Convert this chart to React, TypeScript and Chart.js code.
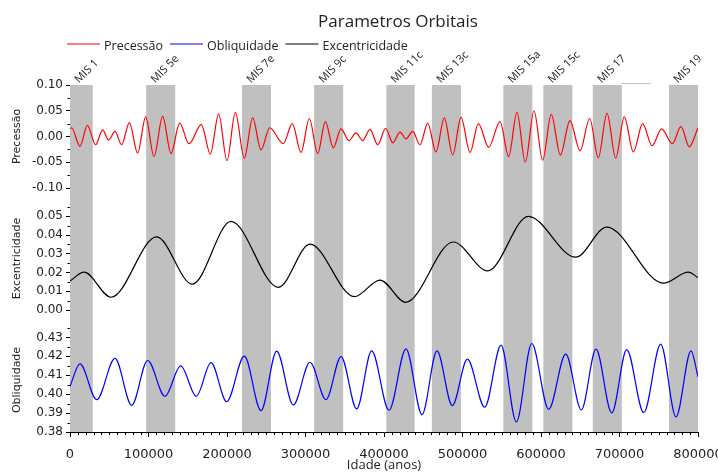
import React, { useEffect, useRef } from 'react';
import { Chart, registerables } from 'chart.js';

Chart.register(...registerables);

// ---------------- data ----------------
const chartTitle = 'Parametros Orbitais';
const xAxisTitle = 'Idade (anos)';

const seriesNames = ['Precessão', 'Obliquidade', 'Excentricidade'];
const seriesColors = ['#ff0000', '#0000ff', '#000000'];

const precessionAges = [0, 2000, 12700, 22100, 32700, 41600, 49200, 57300, 65800, 75600, 86200, 96400, 107000, 118000, 128700, 139700, 151600, 167300, 178800, 189400, 200000, 210600, 222000, 232700, 243300, 254400, 271700, 283200, 294300, 304900, 315500, 325300, 335400, 345200, 355400, 364300, 372800, 382200, 392000, 402100, 411100, 420400, 428000, 436500, 445900, 455700, 466200, 476800, 487500, 498100, 509600, 520200, 533400, 547800, 558800, 569400, 580000, 591100, 602100, 613100, 624600, 636900, 649700, 662000, 673000, 684100, 695200, 706100, 717600, 729500, 741400, 753700, 767300, 778300, 788900, 800000];
const precessionValues = [0.015, 0.017, -0.019, 0.0216, -0.016, 0.013, -0.007, 0.0098, -0.016, 0.027, -0.032, 0.038, -0.039, 0.039, -0.033, 0.026, -0.014, 0.023, -0.034, 0.044, -0.047, 0.047, -0.042, 0.036, -0.026, 0.017, -0.014, 0.025, -0.031, 0.035, -0.033, 0.029, -0.022, 0.015, -0.008, 0.007, -0.008, 0.014, -0.016, 0.016, -0.012, 0.0085, -0.0046, 0.0098, -0.016, 0.026, -0.030, 0.036, -0.036, 0.037, -0.031, 0.025, -0.021, 0.029, -0.039, 0.047, -0.050, 0.050, -0.046, 0.043, -0.036, 0.031, -0.028, 0.035, -0.041, 0.045, -0.042, 0.038, -0.030, 0.025, -0.018, 0.015, -0.014, 0.019, -0.020, 0.017];

const eccentricityAges = [0, 18000, 52200, 110400, 155800, 205100, 265400, 305700, 362200, 394900, 427600, 488300, 532100, 583900, 644200, 683700, 755900, 787700, 800000];
const eccentricityValues = [0.0155, 0.0202, 0.0068, 0.039, 0.0138, 0.0473, 0.0121, 0.0352, 0.0071, 0.016, 0.0041, 0.0363, 0.0209, 0.050, 0.0282, 0.0443, 0.0143, 0.0202, 0.0173];

const obliquityAges = [0, 12700, 34000, 57300, 78600, 98900, 121000, 141000, 160900, 179600, 199600, 222100, 243300, 263300, 284500, 305700, 326100, 345300, 365200, 384300, 406400, 428000, 448400, 467500, 487000, 506200, 528300, 549100, 568600, 588200, 609800, 631500, 651400, 670100, 690100, 709200, 730900, 752500, 772000, 791100, 800000];
const obliquityValues = [0.4042, 0.416, 0.3971, 0.4189, 0.3941, 0.4178, 0.3989, 0.415, 0.3989, 0.4167, 0.3961, 0.4201, 0.3913, 0.4228, 0.3943, 0.4169, 0.3971, 0.4199, 0.3922, 0.4229, 0.3915, 0.424, 0.3892, 0.4229, 0.394, 0.4185, 0.3931, 0.4259, 0.3853, 0.4268, 0.392, 0.4212, 0.3917, 0.4238, 0.3901, 0.4236, 0.3902, 0.4265, 0.388, 0.4229, 0.4092];

const misLabels = ['MIS 1', 'MIS 5e', 'MIS 7e', 'MIS 9c', 'MIS 11c', 'MIS 13c', 'MIS 15a', 'MIS 15c', 'MIS 17', 'MIS 19'];
const misStarts = [0, 97000, 219000, 311000, 403000, 461000, 552000, 603000, 666000, 763000];
const misEnds = [29000, 134000, 256000, 348000, 439000, 498000, 589000, 640000, 703000, 800000];
const stubBand = [702000, 740000];

const xMin = 0;
const xMax = 800000;
const xStep = 100000;
const xMinorStep = 10000;

const precessionRange = [-0.1, 0.1, 0.05];
const eccentricityRange = [0, 0.055, 0.01];
const obliquityRange = [0.38, 0.435, 0.01];

// ---------------- styling ----------------
const BAND = '#c0c0c0';
const TXT = '#222222';
const tickFontY = { family: '"DejaVu Sans", sans-serif', size: 12 };
const tickFontX = { family: '"DejaVu Sans", sans-serif', size: 13 };
const yTitleFont = { family: '"DejaVu Sans", sans-serif', size: 11 };

const fmt2 = (v: any) => (Math.abs(Number(v)) < 1e-9 ? 0 : Number(v)).toFixed(2);

function panelAxis(range: number[], title: string, stackWeight: number, weight: number) {
  return {
    type: 'linear',
    position: 'left',
    stack: 'panels',
    stackWeight,
    weight,
    min: range[0],
    max: range[1],
    ticks: {
      stepSize: range[2],
      includeBounds: false,
      autoSkip: false,
      font: tickFontY,
      color: TXT,
      padding: 3,
      callback: fmt2,
    },
    grid: { drawOnChartArea: false, drawTicks: true, tickLength: 4, tickColor: '#000' },
    border: { display: true, color: '#000', width: 1 },
    title: { display: true, text: title, font: yTitleFont, color: TXT, padding: { top: 2.4, bottom: 4 } },
    afterFit: (s: any) => { s.width = 62; },
  };
}

function gapAxis(stackWeight: number, weight: number) {
  return {
    type: 'linear',
    position: 'left',
    stack: 'panels',
    stackWeight,
    weight,
    min: 0,
    max: 1,
    ticks: { display: false },
    grid: { display: false, drawTicks: false },
    border: { display: false },
    title: { display: false },
    afterFit: (s: any) => { s.width = 62; },
  };
}

const decorPlugin = {
  id: 'decor',
  beforeDatasetsDraw(chart: any) {
    const { ctx, chartArea, scales } = chart;
    const x = scales.x;
    ctx.save();
    ctx.fillStyle = BAND;
    misStarts.forEach((s, i) => {
      const x0 = x.getPixelForValue(s);
      const x1 = x.getPixelForValue(misEnds[i]);
      ctx.fillRect(x0, chartArea.top, x1 - x0, chartArea.bottom - chartArea.top);
    });
    ctx.restore();
  },
  afterDraw(chart: any) {
    const { ctx, chartArea, scales } = chart;
    const x = scales.x;
    ctx.save();
    // minor ticks
    ctx.strokeStyle = '#000';
    ctx.lineWidth = 1;
    ctx.beginPath();
    for (let v = xMin + xMinorStep; v < xMax; v += xMinorStep) {
      if (v % xStep === 0) continue;
      const px = Math.round(x.getPixelForValue(v)) + 0.5;
      ctx.moveTo(px, chartArea.bottom);
      ctx.lineTo(px, chartArea.bottom + 3);
    }
    const yDefs: [string, number[]][] = [['yP', precessionRange], ['yE', eccentricityRange], ['yO', obliquityRange]];
    yDefs.forEach(([id, r]) => {
      const sc = scales[id];
      for (let v = r[0] + r[2] / 2; v <= r[1] + 1e-9; v += r[2]) {
        const py = Math.round(sc.getPixelForValue(v)) + 0.5;
        ctx.moveTo(chartArea.left - 2.5, py);
        ctx.lineTo(chartArea.left, py);
      }
    });
    ctx.stroke();

    // stub line at the top
    ctx.strokeStyle = BAND;
    ctx.beginPath();
    ctx.moveTo(x.getPixelForValue(stubBand[0]), chartArea.top - 1.5);
    ctx.lineTo(x.getPixelForValue(stubBand[1]), chartArea.top - 1.5);
    ctx.stroke();

    // title
    ctx.fillStyle = TXT;
    ctx.font = '17px "Open Sans", sans-serif';
    ctx.textAlign = 'center';
    ctx.textBaseline = 'alphabetic';
    ctx.fillText(chartTitle, 398, 27);

    // legend
    ctx.font = '12.5px "Open Sans", sans-serif';
    ctx.textAlign = 'left';
    let lx = 67;
    seriesNames.forEach((name, i) => {
      ctx.strokeStyle = seriesColors[i];
      ctx.lineWidth = 1.2;
      ctx.beginPath();
      ctx.moveTo(lx, 44);
      ctx.lineTo(lx + 33, 44);
      ctx.stroke();
      ctx.fillStyle = TXT;
      ctx.fillText(name, lx + 37, 49.5);
      lx += 37 + ctx.measureText(name).width + 7;
    });

    // MIS labels
    ctx.font = '11px "Open Sans", sans-serif';
    ctx.fillStyle = TXT;
    misStarts.forEach((s, i) => {
      ctx.save();
      ctx.translate(x.getPixelForValue(s) + 9, chartArea.top - 1.5);
      ctx.rotate(-Math.PI / 4);
      ctx.fillText(misLabels[i], 0, 0);
      ctx.restore();
    });
    ctx.restore();
  },
};

export default function App() {
  const ref = useRef<HTMLCanvasElement | null>(null);

  useEffect(() => {
    document.body.style.margin = '0';
    const canvas = ref.current;
    if (!canvas) return;
    const toXY = (ages: number[], vals: number[]) => ages.map((a, i) => ({ x: a, y: vals[i] }));
    const common = { pointRadius: 0, borderWidth: 1.2, fill: false, cubicInterpolationMode: 'monotone' };
    const chart = new Chart(canvas, {
      type: 'line',
      data: {
        datasets: [
          { ...common, label: seriesNames[0], data: toXY(precessionAges, precessionValues), borderColor: seriesColors[0], backgroundColor: seriesColors[0], yAxisID: 'yP' },
          { ...common, label: seriesNames[1], data: toXY(obliquityAges, obliquityValues), borderColor: seriesColors[1], backgroundColor: seriesColors[1], yAxisID: 'yO' },
          { ...common, label: seriesNames[2], data: toXY(eccentricityAges, eccentricityValues), borderColor: seriesColors[2], backgroundColor: seriesColors[2], yAxisID: 'yE' },
        ] as any,
      },
      options: {
        responsive: false,
        animation: false,
        devicePixelRatio: 1,
        events: [],
        layout: { padding: { top: 85, left: 8, right: 20, bottom: 0 } },
        plugins: { legend: { display: false }, title: { display: false }, tooltip: { enabled: false } },
        scales: {
          x: {
            type: 'linear',
            position: 'bottom',
            min: xMin,
            max: xMax,
            ticks: { stepSize: xStep, autoSkip: false, maxRotation: 0, font: tickFontX, color: TXT, padding: 10, callback: (v: any) => String(v) },
            grid: { drawOnChartArea: false, drawTicks: true, tickLength: 5, tickColor: '#000' },
            border: { display: true, color: '#000', width: 1 },
            title: { display: true, text: xAxisTitle, font: { family: '"Open Sans", sans-serif', size: 13, lineHeight: 1.0 }, color: TXT, padding: { top: 0, bottom: 0 } },
            afterFit: (s: any) => { s.paddingLeft = 0; s.paddingRight = 0; s.height = 40; },
          },
          yP: panelAxis(precessionRange, 'Precessão', 103, 5),
          yGap1: gapAxis(19, 4),
          yE: panelAxis(eccentricityRange, 'Excentricidade', 103, 3),
          yGap2: gapAxis(18, 2),
          yO: panelAxis(obliquityRange, 'Obliquidade', 104, 1),
        } as any,
      },
      plugins: [decorPlugin],
    });
    return () => chart.destroy();
  }, []);

  return (
    <div style={{ width: 718, height: 472, position: 'relative' }}>
      <canvas ref={ref} width={718} height={472} />
    </div>
  );
}
